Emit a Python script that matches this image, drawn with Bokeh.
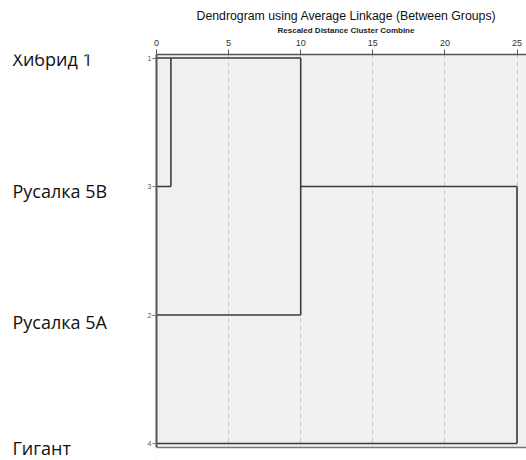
import math
from bokeh.plotting import figure
from bokeh.models import Range1d, FixedTicker, Span, BoxAnnotation, Title
from bokeh.layouts import row
from bokeh.core.properties import value
from bokeh.embed import file_html
from bokeh.resources import INLINE

# ---- data ----
leaf_ids = ["1", "3", "2", "4"]
leaf_names = ["Хибрид 1", "Русалка 5В", "Русалка 5А", "Гигант"]
# merges (scipy-like): clusters 0..3 are leaves in display order
merge_a = [0, 4, 5]
merge_b = [1, 2, 3]
merge_dist = [1.0, 10.0, 25.0]
x_ticks = [0, 5, 10, 15, 20, 25]
title_text = "Dendrogram using Average Linkage (Between Groups)"
subtitle_text = "Rescaled Distance Cluster Combine"

# ---- layout ----
TOTAL_W, TOTAL_H = 526, 460
NAMES_W = 140
MAIN_W = TOTAL_W - NAMES_W
ML, MT, MB = 16, 54, 0
frame_w = MAIN_W - ML
frame_h = TOTAL_H - MT - MB
px_x = 14.42
x_end = frame_w / px_x
row_px = 128.5
y_top = -3.5 / row_px
y_line = 3 + 4 / row_px          # bottom border of the dendrogram panel
y_bot = y_top + frame_h / row_px  # bottom of the canvas
px_y = row_px

common = dict(output_backend="svg", toolbar_location=None)

# ---- main dendrogram figure ----
p = figure(width=MAIN_W, height=TOTAL_H, x_range=Range1d(0, x_end),
           y_range=Range1d(y_bot, y_top), x_axis_location="above",
           min_border_left=ML, min_border_right=0, min_border_top=MT,
           min_border_bottom=MB, title=None, **common)
p.background_fill_color = "#f0f0f0"
p.border_fill_color = "white"
p.outline_line_color = None

p.ygrid.visible = False
p.xgrid.ticker = FixedTicker(ticks=x_ticks)
p.xgrid.grid_line_color = "#c4c4c4"
p.xgrid.grid_line_dash = "4 4"
p.xgrid.grid_line_width = 1

xa = p.xaxis[0]
xa.ticker = FixedTicker(ticks=x_ticks)
xa.major_label_text_font = "Liberation Sans"
xa.major_label_text_font_size = "9px"
xa.major_label_text_color = "#333333"
xa.major_tick_out = 5
xa.major_tick_in = 0
xa.minor_tick_line_color = None
xa.axis_line_color = "#555555"
xa.axis_line_width = 1.5
xa.major_tick_line_color = "#555555"
xa.major_label_standoff = 4

ya = p.yaxis[0]
ya.ticker = FixedTicker(ticks=list(range(len(leaf_ids))))
ya.major_label_overrides = {i: s for i, s in enumerate(leaf_ids)}
ya.major_label_text_font = "Liberation Sans"
ya.major_label_text_font_size = "7px"
ya.major_label_text_color = "#555555"
ya.major_tick_out = 4
ya.major_tick_in = 0
ya.minor_tick_line_color = None
ya.axis_line_color = "#555555"
ya.axis_line_width = 2
ya.major_tick_line_color = "#777777"
ya.major_label_standoff = 1
ya.bounds = (y_top, y_line)

# white strip below the panel and its bottom border line
p.add_layout(BoxAnnotation(top=y_line, fill_color="white", fill_alpha=1.0, line_color=None))
p.add_layout(Span(location=y_line, dimension="width", line_color="#777777", line_width=1.5))

# titles (stacked above the top axis)
p.add_layout(Title(text=subtitle_text, align="left", offset=121, standoff=3,
                   text_font="Liberation Sans", text_font_size="8px",
                   text_font_style="bold", text_color="#222222"), "above")
p.add_layout(Title(text=title_text, align="left", offset=40, standoff=0,
                   text_font="Liberation Sans", text_font_size="12.3px",
                   text_font_style="normal", text_color="#111111"), "above")

# dendrogram segments (SPSS style: merged cluster sits on the row floor((a+b)/2))
n = len(leaf_ids)
pos = {i: i for i in range(n)}
height = {i: 0.0 for i in range(n)}
x0s, y0s, x1s, y1s = [], [], [], []
for k, (a, b, d) in enumerate(zip(merge_a, merge_b, merge_dist)):
    for c in (a, b):
        x0s.append(height[c]); x1s.append(d); y0s.append(pos[c]); y1s.append(pos[c])
    x0s.append(d); x1s.append(d); y0s.append(pos[a]); y1s.append(pos[b])
    new = n + k
    pos[new] = math.floor((pos[a] + pos[b]) / 2)
    height[new] = d
p.segment(x0=x0s, y0=y0s, x1=x1s, y1=y1s, line_color="#3a3a3a", line_width=1.6)

# ---- names figure (left), same vertical frame and scale ----
names = figure(width=NAMES_W, height=TOTAL_H, x_range=Range1d(0, NAMES_W),
               y_range=p.y_range, x_axis_location=None, y_axis_location=None,
               min_border_left=0, min_border_right=0, min_border_top=MT,
               min_border_bottom=MB, title=None, **common)
names.grid.visible = False
names.outline_line_color = None
names.background_fill_color = "white"
name_offsets_px = [0.5, 4, 6.5, 4.5]
names.text(x=[12] * n,
           y=[i + off / px_y for i, off in enumerate(name_offsets_px)],
           text=leaf_names, text_font=value("Open Sans"), text_font_size="18px",
           text_color="#111111", text_baseline="alphabetic", text_align="left")

layout = row(names, p, spacing=0)
open("out.html", "w").write(file_html(layout, INLINE))
